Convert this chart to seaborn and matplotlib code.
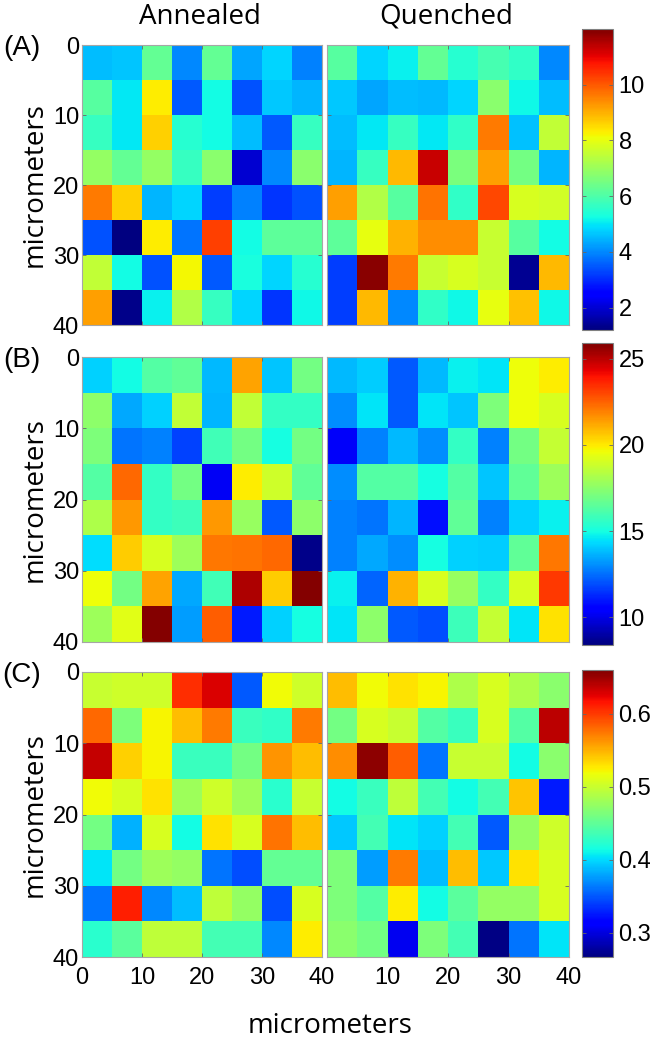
import matplotlib
matplotlib.use("Agg")
import numpy as np
import matplotlib.pyplot as plt
import seaborn as sns

plt.rcParams['font.family'] = ['Liberation Sans', 'DejaVu Sans']

# cell values (8 x 8 grid, 5 micrometer cells)
annealed_a = [
    [4.55, 4.65, 6.3, 4.0, 6.3, 4.3, 4.8, 3.9],
    [6.1, 5.0, 8.3, 3.5, 5.25, 3.4, 4.7, 4.45],
    [5.7, 5.0, 8.65, 5.5, 5.25, 4.55, 3.5, 5.7],
    [6.9, 6.3, 6.9, 5.7, 6.8, 2.0, 4.0, 6.8],
    [9.6, 8.65, 4.45, 4.8, 3.2, 3.9, 3.1, 3.4],
    [3.4, 1.2, 8.3, 3.8, 10.3, 5.25, 6.2, 6.2],
    [7.5, 5.25, 3.4, 8.2, 3.5, 5.3, 4.8, 5.5],
    [9.2, 1.3, 5.1, 7.3, 5.7, 4.8, 3.1, 5.2],
]
quenched_a = [
    [6.1, 4.8, 5.1, 6.3, 5.5, 5.9, 5.6, 4.0],
    [4.7, 4.3, 4.55, 4.5, 4.8, 6.8, 5.2, 4.55],
    [4.55, 5.0, 5.7, 5.0, 5.6, 9.6, 4.6, 7.5],
    [4.45, 5.7, 8.9, 11.3, 6.6, 9.2, 6.5, 4.45],
    [9.2, 7.3, 6.1, 9.7, 5.6, 10.2, 7.8, 7.7],
    [6.2, 8.0, 9.0, 9.4, 9.4, 7.6, 6.1, 5.25],
    [3.2, 11.9, 9.6, 7.6, 7.8, 7.6, 1.4, 8.9],
    [3.2, 8.9, 4.0, 5.6, 5.2, 8.0, 8.8, 5.2],
]
annealed_b = [
    [14.2, 14.9, 16.3, 16.6, 13.8, 21.3, 14.0, 17.0],
    [17.5, 13.5, 14.2, 18.6, 13.7, 18.6, 15.6, 15.6],
    [17.2, 12.6, 12.8, 11.7, 15.9, 17.0, 15.0, 17.0],
    [16.3, 22.4, 15.6, 17.0, 10.2, 19.95, 18.9, 16.6],
    [18.2, 21.5, 15.6, 15.8, 21.5, 17.7, 12.1, 17.5],
    [14.4, 20.5, 19.1, 17.9, 22.1, 22.2, 22.4, 8.6],
    [19.6, 17.0, 21.3, 13.5, 15.9, 25.2, 20.5, 25.8],
    [17.9, 19.3, 25.8, 13.3, 22.6, 11.0, 14.2, 15.0],
]
quenched_b = [
    [13.8, 14.1, 12.1, 13.8, 14.7, 14.5, 19.6, 19.95],
    [13.0, 14.5, 12.1, 14.5, 14.0, 17.2, 19.6, 19.1],
    [10.3, 12.8, 13.8, 13.0, 15.6, 12.8, 17.0, 18.7],
    [13.0, 16.3, 16.3, 15.0, 16.3, 14.0, 16.6, 17.9],
    [12.8, 12.6, 13.7, 10.8, 16.6, 12.8, 14.2, 14.7],
    [12.8, 13.5, 13.0, 15.0, 14.2, 14.1, 16.6, 22.1],
    [14.7, 12.3, 21.0, 19.1, 17.7, 15.6, 19.1, 23.3],
    [14.5, 17.5, 12.1, 11.9, 15.8, 18.7, 14.5, 20.1],
]
annealed_c = [
    [0.499, 0.503, 0.503, 0.605, 0.629, 0.350, 0.519, 0.503],
    [0.581, 0.464, 0.522, 0.546, 0.574, 0.432, 0.428, 0.574],
    [0.636, 0.538, 0.522, 0.432, 0.432, 0.460, 0.562, 0.546],
    [0.519, 0.507, 0.530, 0.479, 0.503, 0.479, 0.424, 0.499],
    [0.460, 0.385, 0.507, 0.414, 0.530, 0.507, 0.577, 0.546],
    [0.405, 0.460, 0.479, 0.475, 0.361, 0.346, 0.452, 0.452],
    [0.361, 0.611, 0.369, 0.389, 0.495, 0.475, 0.346, 0.507],
    [0.424, 0.448, 0.495, 0.495, 0.436, 0.436, 0.369, 0.526],
]
quenched_c = [
    [0.546, 0.519, 0.530, 0.522, 0.487, 0.507, 0.487, 0.471],
    [0.460, 0.507, 0.499, 0.444, 0.432, 0.507, 0.444, 0.640],
    [0.566, 0.655, 0.585, 0.361, 0.499, 0.499, 0.414, 0.471],
    [0.414, 0.432, 0.495, 0.436, 0.414, 0.436, 0.542, 0.326],
    [0.393, 0.436, 0.405, 0.397, 0.436, 0.350, 0.475, 0.503],
    [0.464, 0.377, 0.574, 0.389, 0.546, 0.393, 0.530, 0.507],
    [0.464, 0.444, 0.526, 0.414, 0.448, 0.475, 0.475, 0.507],
    [0.471, 0.460, 0.306, 0.464, 0.436, 0.270, 0.361, 0.405],
]

row_labels = ['(A)', '(B)', '(C)']
color_limits = [(1.2, 12.0), (8.4, 25.9), (0.267, 0.66)]
cbar_ticks = [[2, 4, 6, 8, 10], [10, 15, 20, 25], [0.3, 0.4, 0.5, 0.6]]
cbar_ticklabels = [['2', '4', '6', '8', '10'], ['10', '15', '20', '25'],
                   ['0.3', '0.4', '0.5', '0.6']]
um_ticks = [0, 10, 20, 30, 40]

rows = [(annealed_a, quenched_a), (annealed_b, quenched_b), (annealed_c, quenched_c)]

W, H = 664, 1042
fig = plt.figure(figsize=(W / 100, H / 100), dpi=100)

def box(x0, y0, x1, y1):
    # pixel box -> figure fraction
    return [x0 / W, 1 - y1 / H, (x1 - x0) / W, (y1 - y0) / H]

heat_y = [(45, 325), (357, 642), (672, 957)]
cbar_y = [(29, 330), (343, 645), (670, 957)]
tick_fs = 17
label_fs = 20

for i, (ann, que) in enumerate(rows):
    y0, y1 = heat_y[i]
    ax_l = fig.add_axes(box(82, y0, 322, y1))
    ax_r = fig.add_axes(box(327, y0, 569, y1))
    cax = fig.add_axes(box(582, cbar_y[i][0], 613, cbar_y[i][1]))
    vmin, vmax = color_limits[i]

    sns.heatmap(np.array(ann), ax=ax_l, cmap='jet', vmin=vmin, vmax=vmax,
                cbar=False, xticklabels=False, yticklabels=False)
    sns.heatmap(np.array(que), ax=ax_r, cmap='jet', vmin=vmin, vmax=vmax,
                cbar=True, cbar_ax=cax, xticklabels=False, yticklabels=False)

    for j, ax in enumerate([ax_l, ax_r]):
        for s in ax.spines.values():
            s.set_visible(True)
            s.set_color('0.65')
            s.set_linewidth(0.8)
        ax.set_xticks([0, 2, 4, 6, 8])
        ax.set_yticks([0, 2, 4, 6, 8])
        ax.tick_params(direction='in', length=3, width=0.6, color='0.4',
                       top=True, right=True, labelsize=tick_fs)
        ax.tick_params(axis='y', pad=2)
        ax.tick_params(axis='x', pad=7)
        if j == 0:
            ax.set_yticklabels([str(t) for t in um_ticks], rotation=0)
        else:
            ax.set_yticklabels([])
        if i == 2:
            if j == 0:
                ax.set_xticklabels([str(t) for t in um_ticks])
            else:
                ax.set_xticklabels([''] + [str(t) for t in um_ticks[1:]])
        else:
            ax.set_xticklabels([])
        ax.set_xlabel('')
        ax.set_ylabel('')

    cax.set_yticks(cbar_ticks[i])
    cax.set_yticklabels(cbar_ticklabels[i])
    cax.tick_params(direction='in', length=3, width=0.6, color='0.4',
                    labelsize=tick_fs, pad=4)
    cax.yaxis.set_ticks_position('both')
    cax.tick_params(labelleft=False, labelright=True)
    cbar = ax_r.collections[0].colorbar
    cbar.outline.set_edgecolor('0.5')
    cbar.outline.set_linewidth(0.8)

    yc = (y0 + y1) / 2
    fig.text(35 / W, 1 - yc / H, 'micrometers', rotation=90, ha='center',
             va='center', fontsize=label_fs, family=['Open Sans', 'DejaVu Sans'])
    fig.text(22 / W, 1 - (y0 + 3) / H, row_labels[i], ha='center', va='center',
             fontsize=20)

fig.text(200 / W, 1 - 17 / H, 'Annealed', ha='center', va='center',
         fontsize=label_fs, family=['Open Sans', 'DejaVu Sans'])
fig.text(446 / W, 1 - 17 / H, 'Quenched', ha='center', va='center',
         fontsize=label_fs, family=['Open Sans', 'DejaVu Sans'])
fig.text(330 / W, 1 - 1026 / H, 'micrometers', ha='center', va='center',
         fontsize=label_fs, family=['Open Sans', 'DejaVu Sans'])

fig.savefig('out.png', dpi=100)
